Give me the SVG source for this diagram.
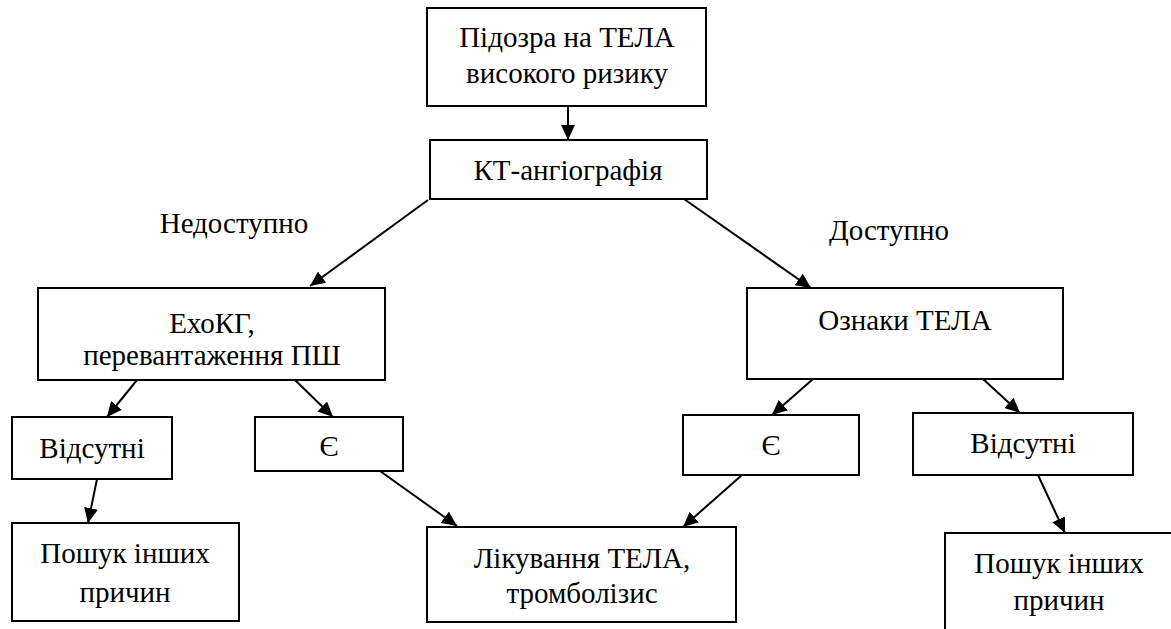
<svg xmlns="http://www.w3.org/2000/svg" width="1171" height="629" viewBox="0 0 1171 629">
<style>
.box{fill:#fff;stroke:#000;stroke-width:2}
.t{font-size:29px;fill:#000;text-anchor:middle}
.c{stroke:#000;stroke-width:2;fill:none;marker-end:url(#ah)}
</style>
<defs>
<marker id="ah" markerUnits="userSpaceOnUse" markerWidth="15" markerHeight="14" refX="15" refY="7" orient="auto">
<path d="M0,0 L15,7 L0,14 z" fill="#000"/>
</marker>
</defs>
<rect width="1171" height="629" fill="#fff"/>
<g id="connectors">
<line class="c" x1="568" y1="106" x2="568" y2="140"/>
<line class="c" x1="428" y1="200" x2="310" y2="286"/>
<line class="c" x1="684" y1="199" x2="811" y2="288"/>
<line class="c" x1="137" y1="380" x2="107" y2="417"/>
<line class="c" x1="295" y1="380" x2="333" y2="417"/>
<line class="c" x1="97" y1="479" x2="88" y2="523"/>
<line class="c" x1="380" y1="471" x2="457" y2="526"/>
<line class="c" x1="813" y1="379" x2="772" y2="415"/>
<line class="c" x1="983" y1="379" x2="1020" y2="413"/>
<line class="c" x1="742" y1="475" x2="683" y2="527"/>
<line class="c" x1="1038" y1="475" x2="1065" y2="533"/>
</g>
<g font-family="Liberation Serif, Times New Roman, serif">
<g id="n1"><rect class="box" x="427" y="8" width="279" height="98"/><text class="t" x="567" y="47">Підозра на ТЕЛА</text><text class="t" x="567" y="83">високого ризику</text></g>
<g id="n2"><rect class="box" x="430" y="140" width="277" height="59"/><text class="t" x="568" y="180">КТ-ангіографія</text></g>
<g id="lbl1"><text class="t" x="234" y="233">Недоступно</text></g>
<g id="lbl2"><text class="t" x="889" y="240">Доступно</text></g>
<g id="n3"><rect class="box" x="38" y="288" width="347" height="92"/><text class="t" x="212" y="333">ЕхоКГ,</text><text class="t" x="212" y="365">перевантаження ПШ</text></g>
<g id="n4"><rect class="box" x="747" y="288" width="316" height="91"/><text class="t" x="905" y="330">Ознаки ТЕЛА</text></g>
<g id="n5"><rect class="box" x="12" y="417" width="160" height="62"/><text class="t" x="92" y="458">Відсутні</text></g>
<g id="n6"><rect class="box" x="255" y="417" width="148" height="54"/><text class="t" x="329" y="456">Є</text></g>
<g id="n7"><rect class="box" x="683" y="415" width="176" height="60"/><text class="t" x="771" y="455">Є</text></g>
<g id="n8"><rect class="box" x="913" y="413" width="220" height="62"/><text class="t" x="1023" y="453">Відсутні</text></g>
<g id="n9"><rect class="box" x="12" y="523" width="227" height="98"/><text class="t" x="125" y="563">Пошук інших</text><text class="t" x="125" y="602">причин</text></g>
<g id="n10"><rect class="box" x="427" y="527" width="309" height="95"/><text class="t" x="582" y="568">Лікування ТЕЛА,</text><text class="t" x="582" y="603">тромболізис</text></g>
<g id="n11"><rect class="box" x="945" y="533" width="300" height="200"/><text class="t" x="1059" y="573">Пошук інших</text><text class="t" x="1059" y="610">причин</text></g>
</g>
</svg>
